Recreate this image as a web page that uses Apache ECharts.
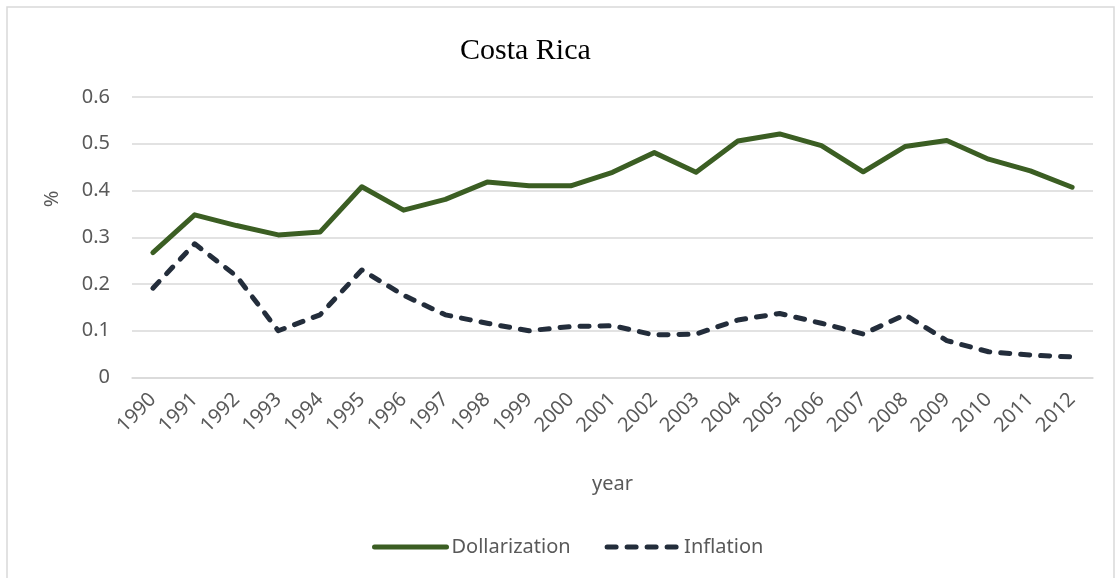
<!DOCTYPE html>
<html>
<head>
<meta charset="utf-8">
<script src="https://cdn.jsdelivr.net/npm/echarts@6/dist/echarts.min.js"></script>
<style>
  html, body { margin: 0; padding: 0; background: #ffffff; }
  #chart { width: 1116px; height: 578px; }
</style>
</head>
<body>
<div id="chart"></div>
<script>
// Costa Rica: dollarization and inflation, 1990–2012
const years = ['1990','1991','1992','1993','1994','1995','1996','1997','1998','1999','2000',
               '2001','2002','2003','2004','2005','2006','2007','2008','2009','2010','2011','2012'];
const dollarization = [0.267, 0.348, 0.325, 0.305, 0.311, 0.408, 0.358, 0.381, 0.418, 0.410, 0.410,
                       0.439, 0.481, 0.439, 0.506, 0.521, 0.496, 0.440, 0.494, 0.507, 0.467, 0.442, 0.407];
const inflation = [0.191, 0.286, 0.217, 0.100, 0.134, 0.230, 0.176, 0.134, 0.116, 0.100, 0.109,
                   0.111, 0.091, 0.093, 0.123, 0.137, 0.116, 0.093, 0.134, 0.079, 0.055, 0.048, 0.044];
const yTicks = { min: 0, max: 0.6, step: 0.1 };

const labelFont = '"Noto Sans", "Open Sans", sans-serif';
const textGray = '#595959';
const gridGray = '#d9d9d9';
const green = '#3b5e23';
const navy = '#232d3b';

const chart = echarts.init(document.getElementById('chart'), null, { renderer: 'canvas' });

chart.setOption({
  backgroundColor: '#ffffff',
  animation: false,
  title: {
    text: 'Costa Rica',
    left: 455,
    top: 31,
    textStyle: {
      fontFamily: '"Liberation Serif", "DejaVu Serif", serif',
      fontSize: 30,
      fontWeight: 'normal',
      color: '#000000'
    }
  },
  grid: { left: 132, right: 23, top: 97, bottom: 200.5, containLabel: false },
  legend: {
    data: ['Dollarization', 'Inflation'],
    left: 367,
    top: 532,
    itemWidth: 72,
    itemHeight: 14,
    itemGap: 34,
    itemStyle: { opacity: 0 },
    lineStyle: { width: 5, cap: 'round' },
    textStyle: { fontFamily: labelFont, fontSize: 20, color: textGray }
  },
  xAxis: {
    type: 'category',
    data: years,
    boundaryGap: true,
    name: 'year',
    nameLocation: 'middle',
    nameGap: 97,
    nameTextStyle: { fontFamily: labelFont, fontSize: 20, color: textGray },
    axisLine: { show: true, lineStyle: { color: gridGray, width: 1.5 } },
    axisTick: { show: false },
    axisLabel: {
      rotate: 45,
      interval: 0,
      margin: 19,
      fontFamily: labelFont,
      fontSize: 20,
      color: textGray
    }
  },
  yAxis: {
    type: 'value',
    min: yTicks.min,
    max: yTicks.max,
    interval: yTicks.step,
    axisLine: { show: false },
    axisTick: { show: false },
    splitLine: { lineStyle: { color: gridGray, width: 1.5 } },
    axisLabel: {
      margin: 22,
      fontFamily: labelFont,
      fontSize: 20,
      color: textGray
    }
  },
  series: [
    {
      name: 'Dollarization',
      type: 'line',
      data: dollarization,
      symbol: 'none',
      color: green,
      lineStyle: { width: 5, color: green, cap: 'round', join: 'round' }
    },
    {
      name: 'Inflation',
      type: 'line',
      data: inflation,
      symbol: 'none',
      color: navy,
      lineStyle: { width: 5, color: navy, type: [9, 11], cap: 'round', join: 'round' }
    }
  ],
  graphic: [
    {
      type: 'rect',
      silent: true,
      shape: { x: 7, y: 7, width: 1107, height: 600 },
      style: { fill: 'none', stroke: '#d9d9d9', lineWidth: 1.5 }
    },
    {
      type: 'text',
      silent: true,
      x: 52,
      y: 199,
      rotation: Math.PI / 2,
      style: {
        text: '%',
        fontFamily: labelFont,
        fontSize: 20,
        fill: textGray,
        align: 'center',
        verticalAlign: 'middle'
      }
    }
  ]
});
</script>
</body>
</html>
